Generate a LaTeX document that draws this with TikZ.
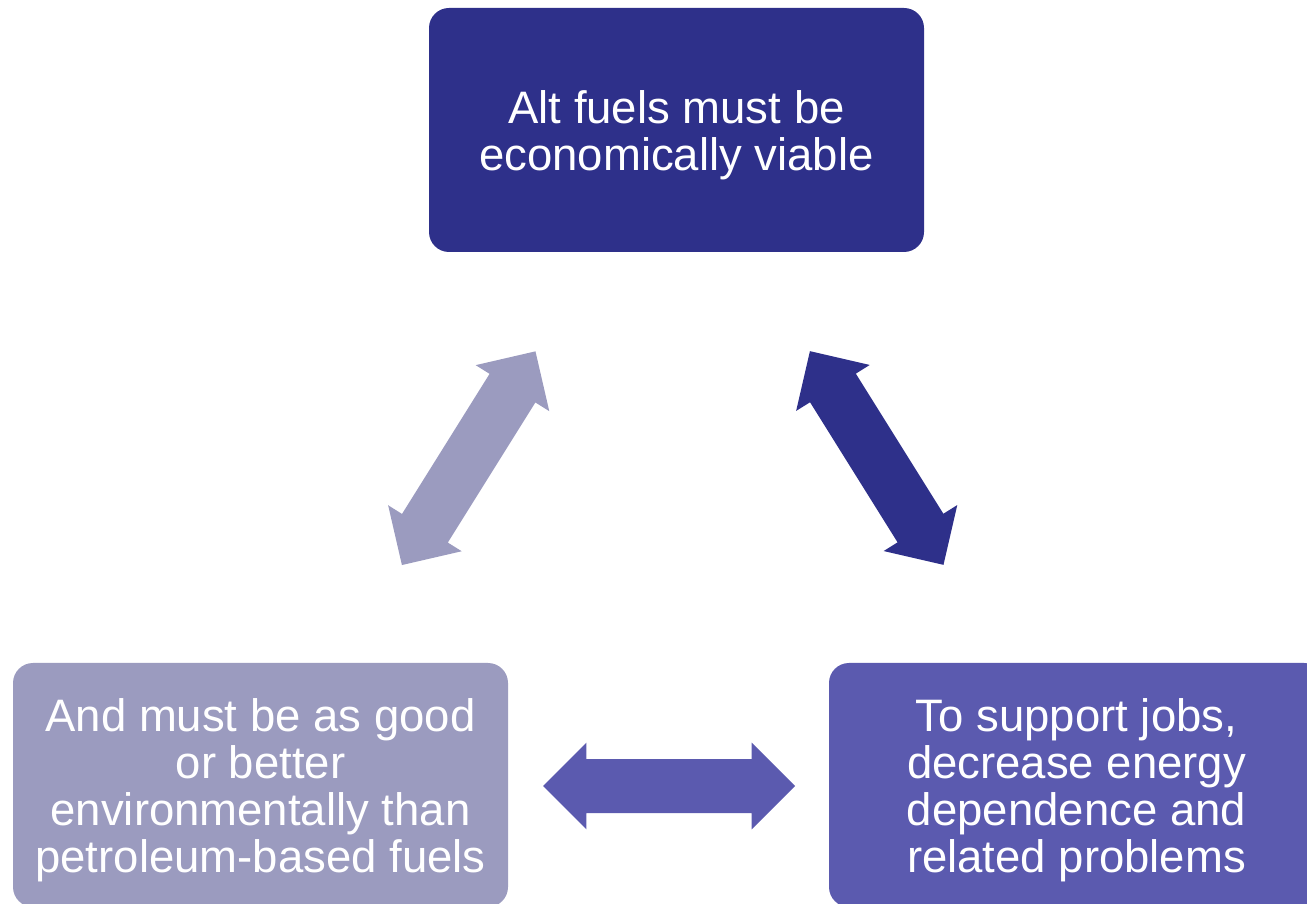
\documentclass[tikz,border=0pt]{standalone}
\usepackage{fontspec}
\setmainfont{Liberation Sans}
\usetikzlibrary{shapes.arrows}
\definecolor{cdark}{RGB}{46,48,138}
\definecolor{cmid}{RGB}{91,90,175}
\definecolor{clight}{RGB}{155,155,191}
\tikzset{
  box/.style={rectangle, rounded corners=20pt, minimum width=495pt, minimum height=244pt, inner sep=0pt},
  lbl/.style={text=white, align=center, inner sep=0pt, font=\fontsize{45.5}{47}\selectfont},
  dbl/.style={double arrow, draw=none, inner xsep=0pt, inner ysep=26.8pt, minimum height=252pt, minimum width=86.4pt,
    double arrow head extend=16.4pt, double arrow tip angle=90}
}
\begin{document}
\begin{tikzpicture}[x=1pt,y=1pt]
\useasboundingbox (0,0) rectangle (1307,903);
\clip (0,0) rectangle (1307,903);
\node[box, fill=cdark] (top) at (676.5,773) {};
\node[box, fill=clight] (left) at (260.5,118) {};
\node[box, fill=cmid] (right) at (1076.5,118) {};
\node[lbl] (toptext) at ([yshift=-5pt]top.center) {Alt fuels must be\\economically viable};
\node[lbl] (lefttext) at ([yshift=-5pt]left.center) {And must be as good\\or better\\environmentally than\\petroleum-based fuels};
\node[lbl] (righttext) at ([yshift=-5pt]right.center) {To support jobs,\\decrease energy\\dependence and\\related problems};
\node[dbl, fill=clight, rotate=58] (aleft) at (468.7,444.8) {};
\node[dbl, fill=cdark, rotate=122] (aright) at (876.7,445) {};
\node[dbl, fill=cmid] (abot) at (669,117) {};
\end{tikzpicture}
\end{document}
